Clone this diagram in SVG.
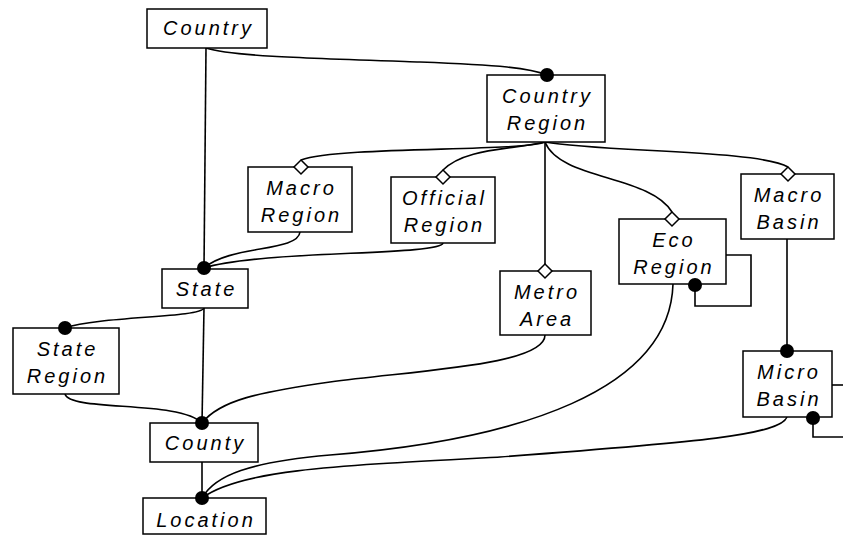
<svg xmlns="http://www.w3.org/2000/svg" width="843" height="535" viewBox="0 0 843 535">
<style>
.box{fill:#fff;stroke:#000;stroke-width:1.5}
.lbl{font-family:"Liberation Sans",Arial,sans-serif;font-style:italic;font-size:20px;letter-spacing:3px;text-anchor:middle;fill:#000}
.ln{fill:none;stroke:#000;stroke-width:1.6}
.dot{fill:#000}
.dia{fill:#fff;stroke:#000;stroke-width:1.5}
</style>
<rect width="843" height="535" fill="#fff"/>
<g id="connectors">
<path class="ln" d="M206,48 C230,56 300,58 420,62 C500,65 530,68 547,75"/>
<path class="ln" d="M206,48 L204,268"/>
<path class="ln" d="M204,308 L202,423"/>
<path class="ln" d="M202,462 L202,498"/>
<path class="ln" d="M545,142 C520,152 340,146 301,160"/>
<path class="ln" d="M545,142 C510,150 465,148 443,170"/>
<path class="ln" d="M545,142 L545,264"/>
<path class="ln" d="M545,142 C560,180 650,175 672,212"/>
<path class="ln" d="M545,142 C600,152 760,150 788,167"/>
<path class="ln" d="M300,232 C298,252 230,245 204,268"/>
<path class="ln" d="M443,243 C440,256 260,250 204,268"/>
<path class="ln" d="M204,308 C200,318 100,316 65,328"/>
<path class="ln" d="M65,394 C70,412 180,400 202,423"/>
<path class="ln" d="M545,335 C545,365 420,370 330,382 C260,392 220,400 202,423"/>
<path class="ln" d="M673,284 C670,390 520,440 330,455 C250,462 215,475 202,498"/>
<path class="ln" d="M787,417 C780,435 700,442 500,457 C330,466 240,470 202,498"/>
<path class="ln" d="M787,239 L787,351"/>
<path class="ln" d="M726,255 L751,255 L751,306 L695,306 L695,285"/>
<path class="ln" d="M832,385 L843,385"/>
<path class="ln" d="M813,418 L813,437 L843,437"/>
</g>
<g id="country">
<rect class="box" x="147" y="9" width="120" height="39"/>
<text class="lbl" x="208.5" y="35">Country</text>
</g>
<g id="country-region">
<rect class="box" x="487" y="75" width="118" height="67"/>
<text class="lbl" x="547.5" y="103">Country</text>
<text class="lbl" x="547.5" y="130">Region</text>
<circle class="dot" cx="547" cy="75" r="7"/>
</g>
<g id="macro-region">
<rect class="box" x="248" y="167" width="104" height="65"/>
<text class="lbl" x="301.5" y="195">Macro</text>
<text class="lbl" x="301.5" y="222">Region</text>
<polygon class="dia" points="301,160 308,167 301,174 294,167"/>
</g>
<g id="official-region">
<rect class="box" x="391" y="177" width="104" height="66"/>
<text class="lbl" x="444.5" y="205">Official</text>
<text class="lbl" x="444.5" y="232">Region</text>
<polygon class="dia" points="443,170 450,177 443,184 436,177"/>
</g>
<g id="state">
<rect class="box" x="162" y="269" width="86" height="39"/>
<text class="lbl" x="206.5" y="296">State</text>
<circle class="dot" cx="204" cy="268" r="7"/>
</g>
<g id="metro-area">
<rect class="box" x="500" y="271" width="91" height="64"/>
<text class="lbl" x="547" y="299">Metro</text>
<text class="lbl" x="547" y="326">Area</text>
<polygon class="dia" points="545,264 552,271 545,278 538,271"/>
</g>
<g id="eco-region">
<rect class="box" x="619" y="219" width="107" height="65"/>
<text class="lbl" x="674" y="247">Eco</text>
<text class="lbl" x="674" y="274">Region</text>
<polygon class="dia" points="672,212 679,219 672,226 665,219"/>
<circle class="dot" cx="695" cy="285" r="7"/>
</g>
<g id="macro-basin">
<rect class="box" x="741" y="174" width="93" height="65"/>
<text class="lbl" x="789" y="202">Macro</text>
<text class="lbl" x="789" y="229">Basin</text>
<polygon class="dia" points="788,167 795,174 788,181 781,174"/>
</g>
<g id="micro-basin">
<rect class="box" x="743" y="351" width="89" height="66"/>
<text class="lbl" x="789" y="379">Micro</text>
<text class="lbl" x="789" y="406">Basin</text>
<circle class="dot" cx="787" cy="351" r="7"/>
<circle class="dot" cx="813" cy="418" r="7"/>
</g>
<g id="state-region">
<rect class="box" x="13" y="328" width="106" height="66"/>
<text class="lbl" x="67.5" y="356">State</text>
<text class="lbl" x="67.5" y="383">Region</text>
<circle class="dot" cx="65" cy="328" r="7"/>
</g>
<g id="county">
<rect class="box" x="150" y="423" width="108" height="39"/>
<text class="lbl" x="205.5" y="450">County</text>
<circle class="dot" cx="202" cy="423" r="7"/>
</g>
<g id="location">
<rect class="box" x="143" y="498" width="123" height="36"/>
<text class="lbl" x="206" y="527">Location</text>
<circle class="dot" cx="202" cy="498" r="7"/>
</g>
</svg>
